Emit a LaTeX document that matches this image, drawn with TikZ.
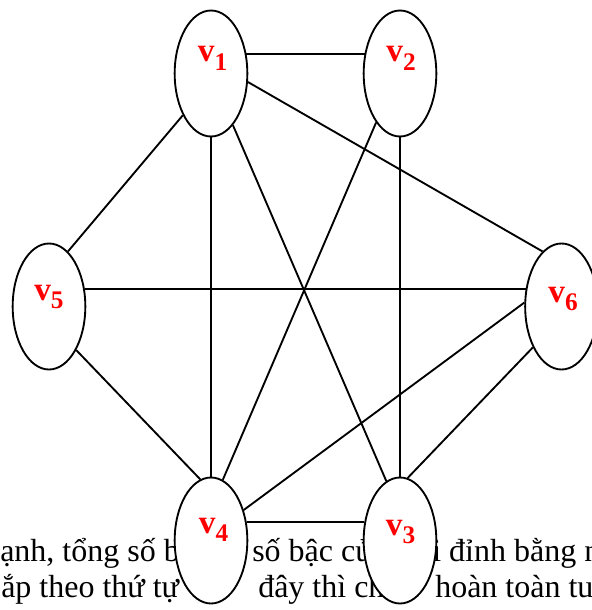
\documentclass[tikz,border=0pt]{standalone}
\usepackage{fontspec}
\setmainfont{Liberation Serif}
\usetikzlibrary{shapes.geometric}

\newcommand{\vsub}[1]{v\raisebox{-6pt}{\fontsize{19}{19}\selectfont #1}}

\begin{document}
\begin{tikzpicture}[
    x=0.75pt, y=-0.75pt,
    vtx/.style={ellipse, draw=black, fill=white, line width=1.4pt,
                minimum width=54.5pt, minimum height=94.5pt, inner sep=0pt},
    vlab/.style={anchor=base, text=red, inner sep=0pt,
                 font=\fontsize{25}{25}\selectfont\bfseries},
    txt/.style={anchor=base west, inner sep=0pt,
                font=\fontsize{24}{28}\selectfont},
    lnk/.style={draw=black, line width=1.4pt},
]
    % column centers
    \def\colA{49}
    \def\colL{211}
    \def\colR{400}
    \def\colB{561.5}
    % row centers
    \def\rowT{73.5}
    \def\rowM{306.5}
    \def\rowB{540.5}

    \clip (0,0) rectangle (592,610);

    % text of the page behind the graph
    \node[txt] (t1a) at (0, 561) {ạnh, tổng số b};
    \node[txt] (t1b) at (252, 561) {số bậc của};
    \node[txt] (t1c) at (432, 561) {i đỉnh bằng n};
    \node[txt] (t2a) at (1, 597) {ắp theo thứ tự};
    \node[txt] (t2b) at (258, 597) {đây thì ch};
    \node[txt] (t2c) at (435, 597) {hoàn toàn tu};

    % vertices
    \node[vtx] (v1) at (\colL, \rowT) {};
    \node[vtx] (v2) at (\colR, \rowT) {};
    \node[vtx] (v5) at (\colA, \rowM) {};
    \node[vtx] (v6) at (\colB, \rowM) {};
    \node[vtx] (v4) at (\colL, \rowB) {};
    \node[vtx] (v3) at (\colR, \rowB) {};

    % vertex names
    \node[vlab] (n1) at (\colL+1.5, \rowT-11.5) {\vsub{1}};
    \node[vlab] (n2) at (\colR+1, \rowT-11.5) {\vsub{2}};
    \node[vlab] (n5) at (\colA, \rowM-6) {\vsub{5}};
    \node[vlab] (n6) at (\colB+1.5, \rowM-4.5) {\vsub{6}};
    \node[vlab] (n4) at (\colL+2.5, \rowB-7.5) {\vsub{4}};
    \node[vlab] (n3) at (\colR+0.5, \rowB-5.5) {\vsub{3}};

    % edges
    \draw[lnk] (v1.29) -- (v2.151);
    \draw[lnk] (v1.-124.5) -- (v5.71);
    \draw[lnk] (v1.270) -- (v4.90);
    \draw[lnk] (v1.-67.3) -- (v3.103);
    \draw[lnk] (v1.-13) -- (v6.109);
    \draw[lnk] (v2.-116.3) -- (v4.79.6);
    \draw[lnk] (v2.270) -- (v3.90);
    \draw[lnk] (v5.26) -- (v6.154);
    \draw[lnk] (v5.-58.8) -- (v4.100);
    \draw[lnk] (v6.174.5) -- (v4.43);
    \draw[lnk] (v6.-125) -- (v3.83);
    \draw[lnk] (v4.27) -- (v3.153);
\end{tikzpicture}
\end{document}
